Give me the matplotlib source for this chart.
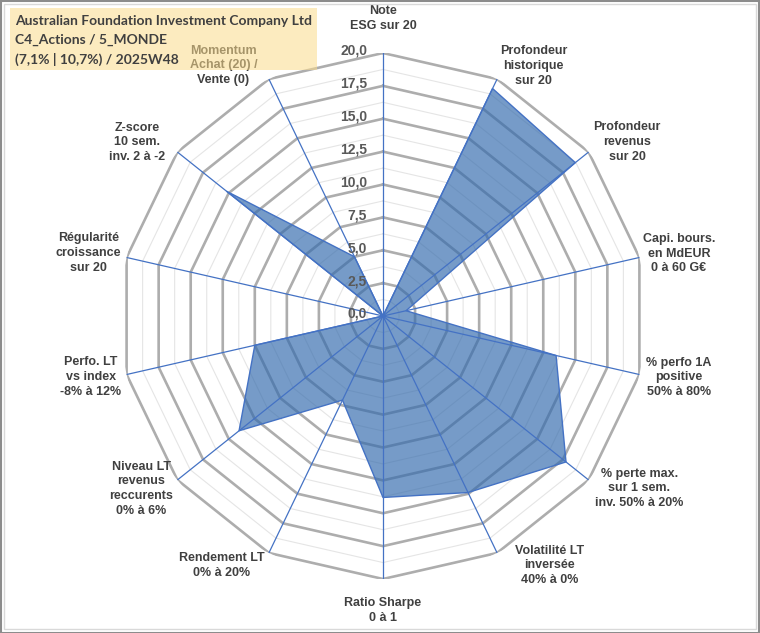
import numpy as np
import matplotlib
matplotlib.use("Agg")
import matplotlib.pyplot as plt
from matplotlib.patches import Rectangle

# axis labels, clockwise from the top
categories = [
    "Note\nESG sur 20",
    "Profondeur\nhistorique\nsur 20",
    "Profondeur\nrevenus\nsur 20",
    "Capi. bours.\nen MdEUR\n0 à 60 G€",
    "% perfo 1A\npositive\n50% à 80%",
    "% perte max.\nsur 1 sem.\ninv. 50% à 20%",
    "Volatilité LT\ninversée\n40% à 0%",
    "Ratio Sharpe\n0 à 1",
    "Rendement LT\n0% à 20%",
    "Niveau LT\nrevenus\nreccurents\n0% à 6%",
    "Perfo. LT\nvs index\n-8% à 12%",
    "Régularité\ncroissance\nsur 20",
    "Z-score\n10 sem.\ninv. 2 à -2",
    "Momentum\nAchat (20) /\nVente (0)",
]
scores = [0, 19.2, 18.7, 1.8, 13.5, 17.8, 14.9, 13.8, 7.1, 14.0, 10.0, 0, 15.2, 5.0]
tick_values = [0, 2.5, 5, 7.5, 10, 12.5, 15, 17.5, 20]
title_lines = [
    "Australian Foundation Investment Company Ltd",
    "C4_Actions / 5_MONDE",
    "(7,1% | 10,7%) / 2025W48",
]

# label anchors (angle in degrees clockwise from top, radius in data units)
label_pos = [(0, 22.6), (31.1, 22.2), (54.5, 22.8), (78.1, 23.0), (101.7, 23.0),
             (123.9, 23.5), (146.3, 22.8), (180, 22.4), (212.8, 22.6), (234.5, 22.6),
             (258.2, 22.7), (282.1, 22.9), (305.2, 22.9), (327.5, 22.6)]

W, H = 760, 633
fig = plt.figure(figsize=(W / 100, H / 100), dpi=100)
fig.patch.set_facecolor("white")

cx, cy, rad = 383, 316, 263
ax = fig.add_axes([(cx - rad) / W, (H - cy - rad) / H, 2 * rad / W, 2 * rad / H],
                  projection="polar")
ax.set_theta_zero_location("N")
ax.set_theta_direction(-1)
ax.set_ylim(0, 20)
ax.set_axis_off()

n = len(categories)
angles = np.linspace(0, 2 * np.pi, n, endpoint=False)
ang_closed = np.append(angles, angles[0])

# polygon grid: major every 2.5, minor in between
for r in np.arange(1.25, 20.01, 1.25):
    major = abs(r / 2.5 - round(r / 2.5)) < 1e-6
    ax.plot(ang_closed, [r] * (n + 1),
            color="#ADADAD" if major else "#E5E5E5",
            lw=1.9 if major else 0.8, zorder=1)

# data polygon
vals = np.append(scores, scores[0])
ax.fill(ang_closed, vals, color=(0.2, 0.415, 0.68), alpha=0.67, zorder=2, lw=0)
ax.plot(ang_closed, vals, color="#4472C4", lw=1.0, zorder=3)

# spokes
for a in angles:
    ax.plot([a, a], [0, 20], color="#4472C4", lw=0.9, zorder=4)

# radial tick labels
for t in tick_values:
    ax.annotate(f"{t:.1f}".replace(".", ","), xy=(0, t), xytext=(-11.5, 1.5),
                textcoords="offset points", ha="right", va="center",
                fontsize=10, fontweight="bold", color="#595959",
                family="Liberation Sans", zorder=5, annotation_clip=False)

# category labels
for lab, (deg, r) in zip(categories, label_pos):
    ax.text(np.deg2rad(deg), r, lab, ha="center", va="center", fontsize=9,
            fontweight="bold", color="#404040", family="Liberation Sans",
            linespacing=1.3, clip_on=False)

# title box (semi-transparent, lies over the Momentum label)
fig.patches.append(Rectangle((10 / W, 1 - 70 / H), 307 / W, 62 / H,
                             transform=fig.transFigure, facecolor=(0.985, 0.86, 0.55),
                             alpha=0.55, edgecolor="none", zorder=1))
for i, line in enumerate(title_lines):
    fig.text(15 / W, 1 - (21 + 19 * i) / H, line, ha="left", va="center",
             fontsize=10, color="#404040", family="Lato", fontweight="bold",
             zorder=3)

# chart borders
fig.patches.append(Rectangle((4 / W, 4 / H), (W - 8) / W, (H - 8) / H,
                             transform=fig.transFigure, fill=False,
                             edgecolor="#D9D9D9", lw=1.0, zorder=0))
fig.patches.append(Rectangle((0.5 / W, 0.5 / H), (W - 1.5) / W, (H - 1.5) / H,
                             transform=fig.transFigure, fill=False,
                             edgecolor="#8C8C8C", lw=1.5, zorder=0))

fig.savefig("out.png", dpi=100)
